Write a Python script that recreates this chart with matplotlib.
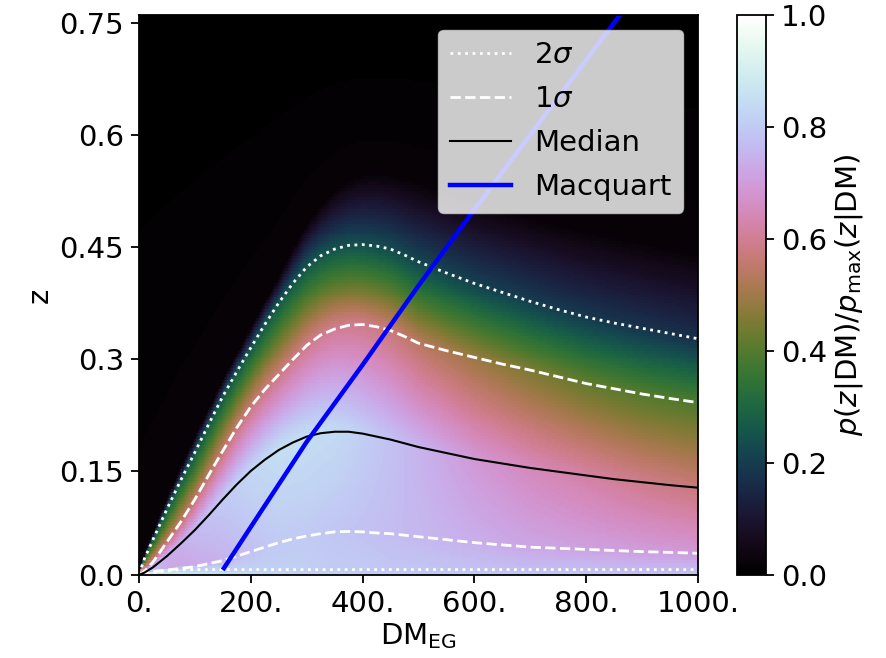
import numpy as np
import matplotlib
matplotlib.use('Agg')
import matplotlib.pyplot as plt
from matplotlib.lines import Line2D

plt.rcParams['font.family'] = ['DejaVu Sans']
plt.rcParams['font.size'] = 21
plt.rcParams['axes.linewidth'] = 1.3
for a in ('xtick', 'ytick'):
    plt.rcParams[a + '.major.size'] = 5.8
    plt.rcParams[a + '.major.width'] = 1.3
    plt.rcParams[a + '.major.pad'] = 5.0

# ---- curves ----
dm = [0, 10, 25, 50, 75, 100, 125, 150, 175, 200, 225, 250, 275, 300, 325, 350, 375,
      400, 425, 450, 475, 500, 550, 600, 650, 700, 750, 800, 850, 900, 950, 1000]

z_lo2 = [0.011, 0.012, 0.014, 0.0165, 0.018, 0.018, 0.018, 0.018, 0.018, 0.018, 0.018,
         0.018, 0.018, 0.018, 0.018, 0.018, 0.018, 0.018, 0.018, 0.018, 0.018, 0.018,
         0.018, 0.018, 0.018, 0.018, 0.018, 0.018, 0.018, 0.018, 0.018, 0.018]
z_lo1 = [0.011, 0.012, 0.015, 0.0175, 0.0195, 0.022, 0.026, 0.030, 0.036, 0.042, 0.048,
         0.054, 0.059, 0.063, 0.066, 0.0685, 0.069, 0.0685, 0.067, 0.066, 0.064, 0.062,
         0.058, 0.054, 0.051, 0.048, 0.0465, 0.045, 0.0435, 0.042, 0.041, 0.0398]
z_med = [0.011, 0.014, 0.021, 0.036, 0.053, 0.071, 0.091, 0.112, 0.132, 0.150, 0.165,
         0.178, 0.188, 0.196, 0.2005, 0.2025, 0.2025, 0.200, 0.196, 0.192, 0.187, 0.182,
         0.174, 0.166, 0.160, 0.154, 0.149, 0.144, 0.139, 0.135, 0.131, 0.1276]
z_hi1 = [0.011, 0.016, 0.028, 0.055, 0.082, 0.112, 0.145, 0.177, 0.208, 0.236, 0.259,
         0.279, 0.299, 0.318, 0.332, 0.340, 0.345, 0.346, 0.343, 0.338, 0.330, 0.321,
         0.311, 0.302, 0.293, 0.285, 0.276, 0.267, 0.260, 0.253, 0.247, 0.2415]
z_hi2 = [0.012, 0.033, 0.058, 0.099, 0.138, 0.175, 0.213, 0.250, 0.283, 0.315, 0.346,
         0.375, 0.401, 0.423, 0.438, 0.447, 0.452, 0.453, 0.451, 0.447, 0.439, 0.430,
         0.415, 0.401, 0.389, 0.377, 0.366, 0.356, 0.348, 0.341, 0.334, 0.327]
# height where the colour has faded to (almost) black
z_edge = [0.016, 0.040, 0.068, 0.113, 0.155, 0.195, 0.234, 0.272, 0.307, 0.342, 0.376,
          0.410, 0.446, 0.480, 0.505, 0.525, 0.538, 0.545, 0.547, 0.545, 0.540, 0.535,
          0.522, 0.510, 0.500, 0.490, 0.480, 0.470, 0.462, 0.455, 0.447, 0.440]

# ---- colour values p/pmax along each level ----
c_dm = [0, 10, 25, 50, 75, 100, 150, 200, 250, 300, 350, 400, 450, 500, 600, 700, 800, 900, 1000]
c_bottom = [0.90, 0.90, 0.89, 0.88, 0.87, 0.86, 0.85, 0.84, 0.83, 0.82, 0.82, 0.81, 0.81, 0.80, 0.80, 0.79, 0.79, 0.78, 0.78]
c_lo2 = [0.90, 0.88, 0.86, 0.84, 0.82, 0.81, 0.81, 0.81, 0.81, 0.81, 0.80, 0.80, 0.79, 0.79, 0.78, 0.77, 0.77, 0.76, 0.76]
c_lo1 = [0.90, 0.84, 0.78, 0.73, 0.72, 0.73, 0.75, 0.78, 0.80, 0.80, 0.79, 0.78, 0.77, 0.76, 0.74, 0.72, 0.71, 0.70, 0.69]
c_med = [0.90, 0.80, 0.76, 0.74, 0.75, 0.77, 0.80, 0.83, 0.85, 0.85, 0.84, 0.81, 0.78, 0.75, 0.69, 0.65, 0.62, 0.59, 0.57]
c_hi1 = [0.90, 0.62, 0.58, 0.56, 0.55, 0.55, 0.56, 0.57, 0.58, 0.59, 0.60, 0.59, 0.57, 0.54, 0.49, 0.45, 0.42, 0.40, 0.39]
c_hi2 = [0.40, 0.30, 0.27, 0.26, 0.26, 0.26, 0.26, 0.26, 0.26, 0.26, 0.25, 0.24, 0.23, 0.22, 0.21, 0.20, 0.19, 0.18, 0.17]
c_edge = [0.02, 0.02, 0.02, 0.02, 0.02, 0.02, 0.02, 0.02, 0.02, 0.02, 0.02, 0.02, 0.02, 0.02, 0.02, 0.02, 0.02, 0.02, 0.02]
c_top = [0.00, 0.00, 0.00, 0.00, 0.00, 0.00, 0.00, 0.00, 0.00, 0.00, 0.00, 0.00, 0.00, 0.00, 0.00, 0.00, 0.00, 0.00, 0.00]

macq_dm = [152, 200, 300, 400, 500, 600, 700, 800, 880]
macq_z = [0.020, 0.075, 0.189, 0.292, 0.398, 0.500, 0.600, 0.700, 0.780]

z_bot, z_top = 0.0107, 0.7603
xticks = [0, 200, 400, 600, 800, 1000]
xticklabels = ['0.', '200.', '400.', '600.', '800.', '1000.']
yticks = [z_bot, 0.15, 0.3, 0.45, 0.6, 0.75]
yticklabels = ['0.0', '0.15', '0.3', '0.45', '0.6', '0.75']
cticks = [0.0, 0.2, 0.4, 0.6, 0.8, 1.0]

# ---- build the image grid from the level curves ----
dm_f = np.linspace(0, 1000, 500)
z_f = np.linspace(z_bot, z_top, 190)
pos = np.vstack([np.full(dm_f.size, z_bot)] +
                [np.interp(dm_f, dm, a) for a in (z_lo2, z_lo1, z_med, z_hi1, z_hi2, z_edge)] +
                [np.full(dm_f.size, z_top)])
val = np.vstack([np.interp(dm_f, c_dm, a) for a in
                 (c_bottom, c_lo2, c_lo1, c_med, c_hi1, c_hi2, c_edge, c_top)])
img = np.empty((z_f.size, dm_f.size))
for j in range(dm_f.size):
    p = np.maximum.accumulate(pos[:, j])
    img[:, j] = np.interp(z_f, p, val[:, j])

# ---- figure ----
fig = plt.figure(figsize=(8.87, 6.58), dpi=100)
ax = fig.add_axes([0.1567, 0.1261, 0.6302, 0.8511])
cax = fig.add_axes([0.8309, 0.1261, 0.0327, 0.8511])

im = ax.imshow(img, origin='lower', extent=[0, 1000, z_bot, z_top], aspect='auto',
               cmap='cubehelix', vmin=0, vmax=1, interpolation='nearest')

lw_s = 2.0
ax.plot(dm, z_hi2, color='white', ls=':', lw=lw_s)
ax.plot(dm, z_lo2, color='white', ls=':', lw=lw_s)
ax.plot(dm, z_hi1, color='white', ls='--', lw=lw_s)
ax.plot(dm, z_lo1, color='white', ls='--', lw=lw_s)
ax.plot(dm, z_med, color='black', ls='-', lw=1.5)
ax.plot(macq_dm, macq_z, color='blue', lw=3.2)

ax.set_xlim(0, 1000)
ax.set_ylim(z_bot, z_top)
ax.set_xticks(xticks)
ax.set_xticklabels(xticklabels)
ax.set_yticks(yticks)
ax.set_yticklabels(yticklabels)
ax.set_xlabel(r'${\rm DM}_{\rm EG}$', labelpad=2)
ax.set_ylabel('z')

handles = [Line2D([], [], color='white', ls=':', lw=lw_s),
           Line2D([], [], color='white', ls='--', lw=lw_s),
           Line2D([], [], color='black', lw=1.5),
           Line2D([], [], color='blue', lw=3.2)]
labels = [r'2$\sigma$', r'1$\sigma$', 'Median', 'Macquart']
ax.legend(handles, labels, loc='upper right', handlelength=2.1, labelspacing=0.55)

cb = fig.colorbar(im, cax=cax, ticks=cticks)
cb.outline.set_linewidth(1.3)
cb.set_label(r'$p(z|{\rm DM})/p_{\rm max}(z|{\rm DM})$')

fig.savefig('out.png', dpi=100)
